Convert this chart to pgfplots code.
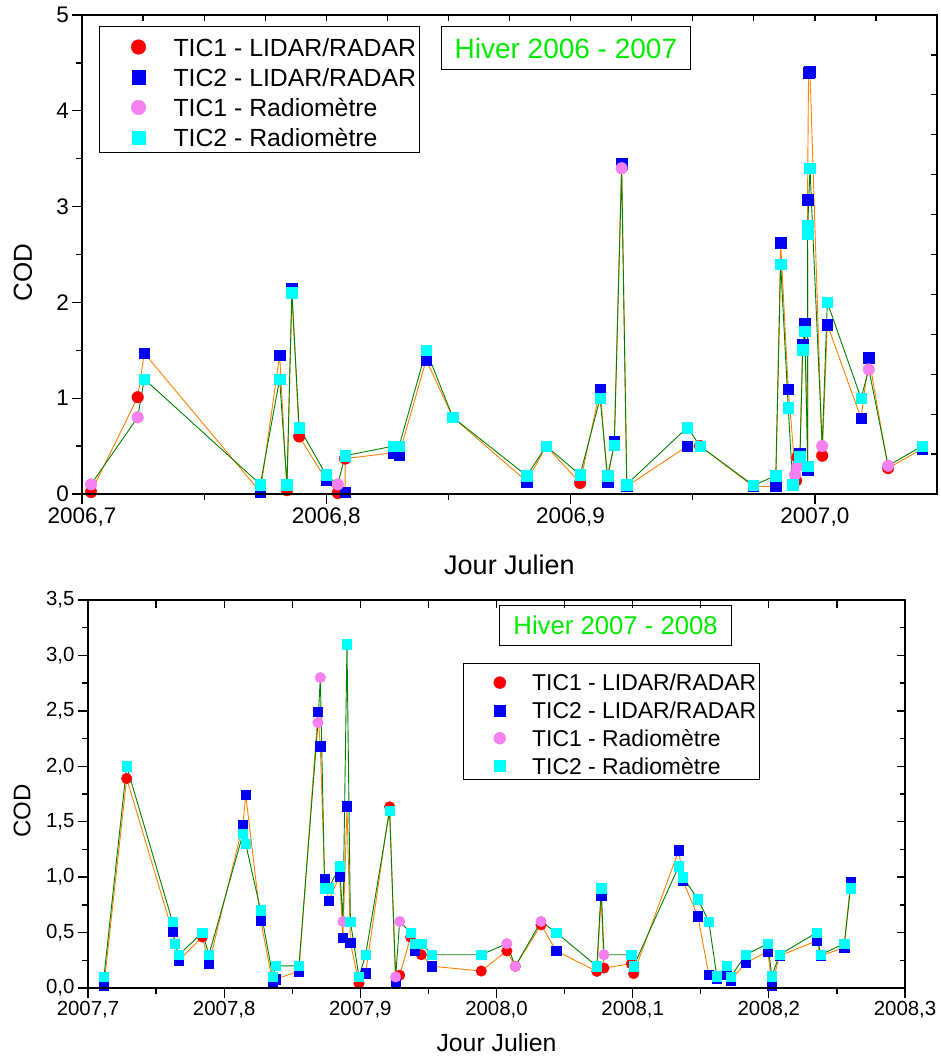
\documentclass[border=0pt]{standalone}
\usepackage{pgfplots}
\pgfplotsset{compat=1.18}
\usepackage{fontspec}
\setmainfont{Liberation Sans}
\definecolor{cRed}{RGB}{255,0,0}
\definecolor{cBlue}{RGB}{0,0,245}
\definecolor{cPink}{RGB}{245,128,240}
\definecolor{cCyan}{RGB}{0,255,255}
\definecolor{cOrange}{RGB}{255,128,0}
\definecolor{cGreen}{RGB}{0,128,0}
\definecolor{cTitle}{RGB}{0,235,0}
\pgfplotsset{
  frame/.style={scale only axis, clip=false,
    axis line style={line width=1.5pt},
    tick style={line width=1.3pt, black},
    /pgf/number format/assume math mode=true},
  ssred/.style={only marks, mark=*, color=cRed, line width=0.4pt},
  ssblue/.style={only marks, mark=square*, color=cBlue, line width=0.4pt},
  sspink/.style={only marks, mark=*, color=cPink, line width=0.4pt},
  sscyan/.style={only marks, mark=square*, color=cCyan, line width=0.4pt},
}
\begin{document}
\begin{tikzpicture}
\path[use as bounding box] (0pt,0pt) rectangle (940pt,1057pt);
% ---------------- TOP PANEL ----------------
\begin{axis}[frame,
  at={(82pt,563pt)}, anchor=south west, width=855pt, height=479pt,
  xmin=2006.7, xmax=2007.05, ymin=0, ymax=5,
  xtick={2006.7,2006.8,2006.9,2007.0}, minor x tick num=1,
  ytick={0,1,2,3,4,5}, minor y tick num=1,
  xtick pos=left, ytick pos=left, tick align=outside,
  major tick length=10pt, minor tick length=6pt,
  tick label style={font=\fontsize{22.5}{26}\selectfont},
  x tick label style={/pgf/number format/.cd, fixed, fixed zerofill, precision=1, use comma, 1000 sep={}},
  every axis x label/.style={at={(rel axis cs:0.5,-0.148)}, anchor=center, font=\fontsize{27}{30}\selectfont},
  every axis y label/.style={at={(rel axis cs:-0.069,0.463)}, rotate=90, anchor=center, font=\fontsize{26}{30}\selectfont},
  xlabel={Jour Julien}, ylabel={COD},
  legend style={at={(rel axis cs:0.0199,0.977)}, anchor=north west, draw=black, line width=1pt,
    inner xsep=3pt, inner ysep=5.5pt, row sep=6.2pt, column sep=0pt,
    font=\fontsize{24.8}{28}\selectfont,
    nodes={inner xsep=0pt, inner ysep=0pt, text height=24pt, text depth=0pt}},
  legend cell align=left,
  legend image code/.code={\path[draw=none,fill=none] (-36pt,0pt) (35pt,0pt); \draw[#1,every mark/.append style={scale=1.26}] plot coordinates {(0pt,-3pt)};},
]
\addplot[color=cOrange, line width=0.9pt, mark=none, forget plot] coordinates {
(2006.7037,0.02) (2006.7228,1.01) (2006.7255,1.47) (2006.7730,0.02) (2006.7809,1.45) (2006.7839,0.04) (2006.7859,2.15) (2006.7889,0.60) (2006.7999,0.15) (2006.8047,0.01) (2006.8077,0.02) (2006.8077,0.37) (2006.8275,0.43) (2006.8298,0.41) (2006.8409,1.40) (2006.8518,0.80) (2006.8821,0.13) (2006.8900,0.50) (2006.9039,0.115) (2006.9121,1.095) (2006.9151,0.13) (2006.9179,0.55) (2006.9209,3.45) (2006.9230,0.08) (2006.9478,0.50) (2006.9530,0.50) (2006.9748,0.08) (2006.9840,0.08) (2006.9860,2.62) (2006.9891,1.095) (2006.9923,0.14) (2006.9928,0.385) (2006.9939,0.42) (2006.9950,1.56) (2006.9959,1.78) (2006.9971,0.25) (2006.9970,3.07) (2006.9974,4.40) (2006.9980,4.41) (2007.0030,0.40) (2007.0051,1.77) (2007.0189,0.79) (2007.0221,1.42) (2007.0300,0.27) (2007.0439,0.47)};
\addplot[color=cGreen, line width=0.9pt, mark=none, forget plot] coordinates {
(2006.7037,0.10) (2006.7228,0.80) (2006.7255,1.20) (2006.7730,0.10) (2006.7809,1.20) (2006.7839,0.10) (2006.7859,2.10) (2006.7889,0.695) (2006.7999,0.20) (2006.8047,0.10) (2006.8077,0.40) (2006.8275,0.50) (2006.8298,0.50) (2006.8409,1.50) (2006.8518,0.80) (2006.8821,0.19) (2006.8900,0.50) (2006.9039,0.20) (2006.9121,1.00) (2006.9151,0.19) (2006.9179,0.51) (2006.9209,3.40) (2006.9230,0.10) (2006.9478,0.695) (2006.9530,0.50) (2006.9748,0.09) (2006.9840,0.19) (2006.9860,2.40) (2006.9891,0.90) (2006.9909,0.10) (2006.9919,0.20) (2006.9928,0.29) (2006.9939,0.39) (2006.9950,1.505) (2006.9959,1.70) (2006.9971,0.29) (2006.9970,2.72) (2006.9971,2.80) (2006.9980,3.40) (2007.0030,0.50) (2007.0051,2.00) (2007.0189,1.00) (2007.0221,1.30) (2007.0300,0.295) (2007.0439,0.50)};
\addplot[ssred, mark size=5.8pt] coordinates {
(2006.7037,0.02) (2006.7228,1.01) (2006.7839,0.04) (2006.7889,0.60) (2006.8047,0.01) (2006.8077,0.37) (2006.9039,0.115) (2006.9530,0.50) (2006.9923,0.14) (2006.9928,0.385) (2007.0030,0.40) (2007.0300,0.27)};
\addlegendentry{TIC1 - LIDAR/RADAR}
\addplot[ssblue, mark size=5.3pt] coordinates {
(2006.7255,1.47) (2006.7730,0.02) (2006.7809,1.45) (2006.7859,2.15) (2006.7999,0.15) (2006.8077,0.02) (2006.8275,0.43) (2006.8298,0.41) (2006.8409,1.40) (2006.8518,0.80) (2006.8821,0.13) (2006.8900,0.50) (2006.9121,1.095) (2006.9151,0.13) (2006.9179,0.55) (2006.9209,3.45) (2006.9230,0.08) (2006.9478,0.50) (2006.9748,0.08) (2006.9840,0.08) (2006.9860,2.62) (2006.9891,1.095) (2006.9939,0.42) (2006.9950,1.56) (2006.9959,1.78) (2006.9971,0.25) (2006.9970,3.07) (2006.9974,4.40) (2006.9980,4.41) (2007.0051,1.77) (2007.0189,0.79) (2007.0221,1.42) (2007.0439,0.47)};
\addlegendentry{TIC2 - LIDAR/RADAR}
\addplot[sspink, mark size=5.8pt] coordinates {
(2006.7037,0.10) (2006.7228,0.80) (2006.8047,0.10) (2006.9209,3.40) (2006.9919,0.20) (2006.9928,0.29) (2007.0030,0.50) (2007.0221,1.30) (2007.0300,0.295)};
\addlegendentry{TIC1 - Radiomètre}
\addplot[sscyan, mark size=5.3pt] coordinates {
(2006.7255,1.20) (2006.7730,0.10) (2006.7809,1.20) (2006.7839,0.10) (2006.7859,2.10) (2006.7889,0.695) (2006.7999,0.20) (2006.8077,0.40) (2006.8275,0.50) (2006.8298,0.50) (2006.8409,1.50) (2006.8518,0.80) (2006.8821,0.19) (2006.8900,0.50) (2006.9039,0.20) (2006.9121,1.00) (2006.9151,0.19) (2006.9179,0.51) (2006.9230,0.10) (2006.9478,0.695) (2006.9530,0.50) (2006.9748,0.09) (2006.9840,0.19) (2006.9860,2.40) (2006.9891,0.90) (2006.9909,0.10) (2006.9939,0.39) (2006.9950,1.505) (2006.9959,1.70) (2006.9971,0.29) (2006.9970,2.72) (2006.9971,2.80) (2006.9980,3.40) (2007.0051,2.00) (2007.0189,1.00) (2007.0439,0.50)};
\addlegendentry{TIC2 - Radiomètre}
\node[draw=black, line width=1pt, anchor=north west, inner xsep=13pt, minimum height=43pt,
  font=\fontsize{28}{32}\selectfont, text=cTitle] at (rel axis cs:0.42,0.977) {Hiver 2006 - 2007};
\end{axis}
\begin{axis}[frame,
  at={(82pt,563pt)}, anchor=south west, width=855pt, height=479pt,
  xmin=2006.7, xmax=2007.05, ymin=0, ymax=5,
  xtick={2006.725,2006.75,2006.775,2006.8,2006.825,2006.85,2006.875,2006.9,2006.925,2006.95,2006.975,2007.0,2007.025},
  ytick={0.41667,0.83333,1.25,1.66667,2.08333,2.5,2.91667,3.33333,3.75,4.16667,4.58333},
  xtick pos=right, ytick pos=right, tick align=inside,
  major tick length=6pt, xticklabels={}, yticklabels={},
]
\end{axis}
% ---------------- BOTTOM PANEL ----------------
\begin{axis}[frame,
  at={(88pt,69pt)}, anchor=south west, width=817pt, height=388pt,
  xmin=2007.7, xmax=2008.3, ymin=0, ymax=3.5,
  xtick={2007.7,2007.8,2007.9,2008.0,2008.1,2008.2,2008.3}, minor x tick num=1,
  ytick={0,0.5,1,1.5,2,2.5,3,3.5}, minor y tick num=1,
  xtick pos=left, ytick pos=left, tick align=outside,
  major tick length=10pt, minor tick length=6pt,
  tick label style={font=\fontsize{20.4}{24}\selectfont},
  x tick label style={/pgf/number format/.cd, fixed, fixed zerofill, precision=1, use comma, 1000 sep={}},
  y tick label style={/pgf/number format/.cd, fixed, fixed zerofill, precision=1, use comma, 1000 sep={}},
  every axis x label/.style={at={(rel axis cs:0.5,-0.141)}, anchor=center, font=\fontsize{24.8}{28}\selectfont},
  every axis y label/.style={at={(rel axis cs:-0.0808,0.456)}, rotate=90, anchor=center, font=\fontsize{24}{28}\selectfont},
  xlabel={Jour Julien}, ylabel={COD},
  legend style={at={(rel axis cs:0.459,0.8376)}, anchor=north west, draw=black, line width=1pt,
    inner xsep=3pt, inner ysep=5.3pt, row sep=5.8pt, column sep=0pt,
    font=\fontsize{22.9}{26}\selectfont,
    nodes={inner xsep=0pt, inner ysep=0pt, text height=22pt, text depth=0pt}},
  legend cell align=left,
  legend image code/.code={\path[draw=none,fill=none] (-33.3pt,0pt) (32.4pt,0pt); \draw[#1,every mark/.append style={scale=1.13}] plot coordinates {(0pt,-2.8pt)};},
]
\addplot[color=cOrange, line width=0.9pt, mark=none, forget plot] coordinates {
(2007.7117,0.02) (2007.7284,1.89) (2007.7620,0.51) (2007.7668,0.25) (2007.7840,0.46) (2007.7888,0.22) (2007.8138,1.47) (2007.8158,1.745) (2007.8268,0.61) (2007.8358,0.04) (2007.8378,0.08) (2007.8549,0.15) (2007.8689,2.49) (2007.8706,2.18) (2007.8738,0.98) (2007.8769,0.79) (2007.8848,1.01) (2007.8872,0.455) (2007.8902,1.64) (2007.8927,0.41) (2007.8990,0.04) (2007.9039,0.135) (2007.9215,1.634) (2007.9259,0.04) (2007.9289,0.115) (2007.9369,0.46) (2007.9399,0.335) (2007.9448,0.30) (2007.9526,0.196) (2007.9888,0.153) (2008.0076,0.334) (2008.0138,0.196) (2008.0327,0.57) (2008.0439,0.334) (2008.0737,0.15) (2008.0769,0.83) (2008.0789,0.18) (2008.0990,0.22) (2008.1007,0.13) (2008.1339,1.243) (2008.1369,0.966) (2008.1479,0.647) (2008.1559,0.12) (2008.1618,0.09) (2008.1692,0.12) (2008.1721,0.07) (2008.1829,0.226) (2008.1993,0.33) (2008.2022,0.025) (2008.2078,0.29) (2008.2352,0.425) (2008.2380,0.29) (2008.2554,0.365) (2008.2600,0.957)};
\addplot[color=cGreen, line width=0.9pt, mark=none, forget plot] coordinates {
(2007.7117,0.10) (2007.7284,2.00) (2007.7620,0.60) (2007.7637,0.40) (2007.7668,0.30) (2007.7840,0.50) (2007.7888,0.30) (2007.8138,1.39) (2007.8158,1.30) (2007.8268,0.70) (2007.8358,0.10) (2007.8378,0.20) (2007.8549,0.20) (2007.8689,2.395) (2007.8706,2.80) (2007.8738,0.90) (2007.8769,0.90) (2007.8848,1.10) (2007.8872,0.60) (2007.8902,3.10) (2007.8927,0.60) (2007.8990,0.10) (2007.9039,0.30) (2007.9215,1.60) (2007.9259,0.10) (2007.9289,0.60) (2007.9369,0.50) (2007.9399,0.40) (2007.9448,0.40) (2007.9526,0.30) (2007.9888,0.30) (2008.0076,0.40) (2008.0138,0.196) (2008.0327,0.60) (2008.0439,0.50) (2008.0737,0.196) (2008.0769,0.90) (2008.0789,0.30) (2008.0990,0.30) (2008.1007,0.196) (2008.1339,1.10) (2008.1369,1.00) (2008.1479,0.80) (2008.1559,0.60) (2008.1618,0.105) (2008.1692,0.20) (2008.1721,0.10) (2008.1829,0.30) (2008.1993,0.40) (2008.2022,0.105) (2008.2078,0.30) (2008.2352,0.50) (2008.2380,0.30) (2008.2554,0.40) (2008.2600,0.90)};
\addplot[ssred, mark size=5.3pt] coordinates {
(2007.7284,1.89) (2007.7840,0.46) (2007.8990,0.04) (2007.9215,1.634) (2007.9289,0.115) (2007.9369,0.46) (2007.9448,0.30) (2007.9888,0.153) (2008.0076,0.334) (2008.0138,0.196) (2008.0327,0.57) (2008.0737,0.15) (2008.0789,0.18) (2008.0990,0.22) (2008.1007,0.13)};
\addlegendentry{TIC1 - LIDAR/RADAR}
\addplot[ssblue, mark size=4.7pt] coordinates {
(2007.7117,0.02) (2007.7620,0.51) (2007.7668,0.25) (2007.7888,0.22) (2007.8138,1.47) (2007.8158,1.745) (2007.8268,0.61) (2007.8358,0.04) (2007.8378,0.08) (2007.8549,0.15) (2007.8689,2.49) (2007.8706,2.18) (2007.8738,0.98) (2007.8769,0.79) (2007.8848,1.01) (2007.8872,0.455) (2007.8902,1.64) (2007.8927,0.41) (2007.9039,0.135) (2007.9259,0.04) (2007.9399,0.335) (2007.9526,0.196) (2008.0439,0.334) (2008.0769,0.83) (2008.1339,1.243) (2008.1369,0.966) (2008.1479,0.647) (2008.1559,0.12) (2008.1618,0.09) (2008.1692,0.12) (2008.1721,0.07) (2008.1829,0.226) (2008.1993,0.33) (2008.2022,0.025) (2008.2078,0.29) (2008.2352,0.425) (2008.2380,0.29) (2008.2554,0.365) (2008.2600,0.957)};
\addlegendentry{TIC2 - LIDAR/RADAR}
\addplot[sspink, mark size=5.3pt] coordinates {
(2007.8689,2.395) (2007.8706,2.80) (2007.8872,0.60) (2007.9259,0.10) (2007.9289,0.60) (2008.0076,0.40) (2008.0138,0.196) (2008.0327,0.60) (2008.0789,0.30)};
\addlegendentry{TIC1 - Radiomètre}
\addplot[sscyan, mark size=4.7pt] coordinates {
(2007.7117,0.10) (2007.7284,2.00) (2007.7620,0.60) (2007.7637,0.40) (2007.7668,0.30) (2007.7840,0.50) (2007.7888,0.30) (2007.8138,1.39) (2007.8158,1.30) (2007.8268,0.70) (2007.8358,0.10) (2007.8378,0.20) (2007.8549,0.20) (2007.8738,0.90) (2007.8769,0.90) (2007.8848,1.10) (2007.8902,3.10) (2007.8927,0.60) (2007.8990,0.10) (2007.9039,0.30) (2007.9215,1.60) (2007.9369,0.50) (2007.9399,0.40) (2007.9448,0.40) (2007.9526,0.30) (2007.9888,0.30) (2008.0439,0.50) (2008.0737,0.196) (2008.0769,0.90) (2008.0990,0.30) (2008.1007,0.196) (2008.1339,1.10) (2008.1369,1.00) (2008.1479,0.80) (2008.1559,0.60) (2008.1618,0.105) (2008.1692,0.20) (2008.1721,0.10) (2008.1829,0.30) (2008.1993,0.40) (2008.2022,0.105) (2008.2078,0.30) (2008.2352,0.50) (2008.2380,0.30) (2008.2554,0.40) (2008.2600,0.90)};
\addlegendentry{TIC2 - Radiomètre}
\node[draw=black, line width=1pt, anchor=north west, inner xsep=13.7pt, minimum height=40pt,
  font=\fontsize{25.7}{29}\selectfont, text=cTitle] at (rel axis cs:0.5034,0.987) {Hiver 2007 - 2008};
\end{axis}
\begin{axis}[frame,
  at={(88pt,69pt)}, anchor=south west, width=817pt, height=388pt,
  xmin=2007.7, xmax=2008.3, ymin=0, ymax=3.5,
  xtick={2007.7,2007.75,2007.8,2007.85,2007.9,2007.95,2008.0,2008.05,2008.1,2008.15,2008.2,2008.25,2008.3},
  ytick={0,0.5,1,1.5,2,2.5,3,3.5}, minor y tick num=1,
  xtick pos=right, ytick pos=right, tick align=inside,
  major tick length=8pt, minor tick length=5pt, xticklabels={}, yticklabels={},
]
\end{axis}
\end{tikzpicture}
\end{document}
